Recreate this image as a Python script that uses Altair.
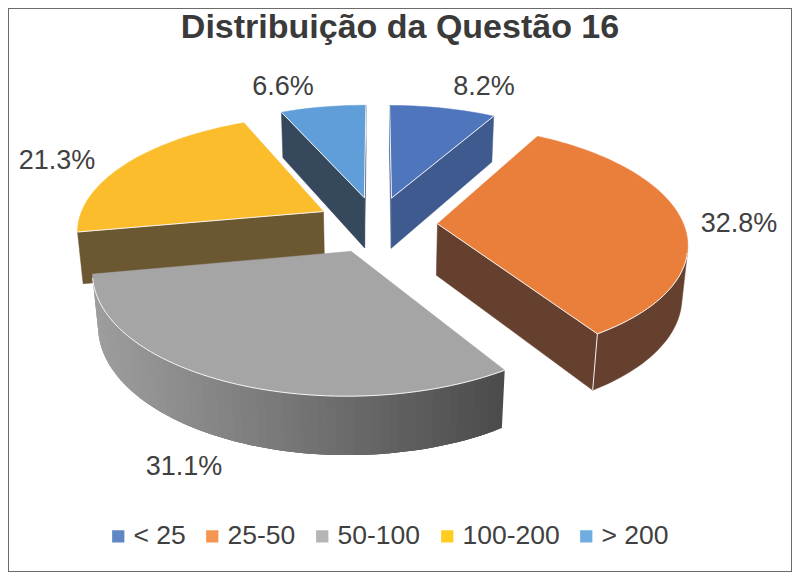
import math
import altair as alt

# Chart values
categories = ["< 25", "25-50", "50-100", "100-200", "> 200"]
shares = [8.2, 32.8, 31.1, 21.3, 6.6]

# Styles
top_colors = ["#4F75BC", "#EA7F3C", "#A5A5A5", "#FBBD2C", "#5F9ED8"]
wall_colors = ["#3E5A8E", "#66402E", None, "#6C5733", "#36495C"]
legend_colors = ["#5F87C5", "#F4964F", "#B5B5B5", "#FFCC22", "#6FADE0"]
draw_order = [4, 0, 3, 1, 2]
label_px = [(484, 87), (739, 224), (184, 467), (57, 161), (283, 87)]

# 3D pie model: unit radius, exploded, seen through a pinhole camera
CX, CY = 376.5, 224.5
SIN_A = 0.463
COS_A = 0.886
DIST = 5.87
FOCAL = 1445
EXPLODE = 0.248
THICK = 0.24


def project(x, y, z):
    d = DIST + y * COS_A - z * SIN_A
    u = y * SIN_A + z * COS_A
    return [CX + FOCAL * x / d, CY - FOCAL * u / d]


def signed_area(p):
    return sum(p[i][0] * p[(i + 1) % len(p)][1] - p[(i + 1) % len(p)][0] * p[i][1]
               for i in range(len(p))) / 2


features = []


def polygon(points, fill, stroke=None, width=0.5):
    features.append({
        "type": "Feature",
        "geometry": {"type": "Polygon", "coordinates": [points + [points[0]]]},
        "properties": {"fill": fill, "stroke": stroke or fill, "sw": width},
    })


def line(points, color="#F4F4F4", width=1.0):
    features.append({
        "type": "Feature",
        "geometry": {"type": "LineString", "coordinates": points},
        "properties": {"fill": "transparent", "stroke": color, "sw": width},
    })


def gray_shade(x):
    k = min(1.0, max(0.0, (x - 92) / (500 - 92)))
    v = round(0x9E + (0x4C - 0x9E) * k)
    return f"#{v:02x}{v:02x}{v:02x}"


total = sum(shares)
bounds = [0.0]
for s in shares:
    bounds.append(bounds[-1] + s / total * 2 * math.pi)

for i in draw_order:
    t0, t1 = bounds[i], bounds[i + 1]
    mid = (t0 + t1) / 2
    ox, oy = EXPLODE * math.sin(mid), EXPLODE * math.cos(mid)
    n = max(6, int((t1 - t0) / 0.03))
    ts = [t0 + (t1 - t0) * k / n for k in range(n + 1)]

    def rim(t, z):
        return project(ox + math.sin(t), oy + math.cos(t), z)

    apex_t, apex_b = project(ox, oy, 0), project(ox, oy, -THICK)
    wall = wall_colors[i]
    top_edges = []

    # cut faces
    for t, sign in ((t0, -1), (t1, 1)):
        face = [apex_t, rim(t, 0), rim(t, -THICK), apex_b]
        if signed_area(face) * sign > 0:
            polygon(face, wall or gray_shade((face[0][0] + face[1][0]) / 2))
            top_edges.append([apex_t, rim(t, 0)])

    # curved outer wall: the part that faces the camera
    visible = []
    for a, b in zip(ts, ts[1:]):
        strip = [rim(a, 0), rim(b, 0), rim(b, -THICK), rim(a, -THICK)]
        if signed_area(strip) < 0:
            if not visible:
                visible.append(a)
            visible.append(b)
    if len(visible) > 1:
        if wall:
            polygon([rim(t, 0) for t in visible]
                    + [rim(t, -THICK) for t in reversed(visible)], wall)
        else:
            # shaded wall: overlapping strips, from its far end to its near end
            for k in range(len(visible) - 1):
                stop = min(k + 3, len(visible) - 1)
                part = visible[k:stop + 1]
                xm = (rim(visible[k], 0)[0] + rim(visible[k + 1], 0)[0]) / 2
                polygon([rim(t, 0) for t in part]
                        + [rim(t, -THICK) for t in reversed(part)],
                        gray_shade(xm), width=0)
        top_edges.append([rim(t, 0) for t in visible])

    # top surface
    polygon([apex_t] + [rim(t, 0) for t in ts], top_colors[i])
    for e in top_edges:
        line(e)

    # seam where a visible cut face meets the visible curved wall
    for t, sign in ((t0, -1), (t1, 1)):
        face = [apex_t, rim(t, 0), rim(t, -THICK), apex_b]
        eps = 0.02 * sign
        s2 = [rim(t - eps, 0), rim(t, 0), rim(t, -THICK), rim(t - eps, -THICK)]
        if signed_area(face) * sign > 0 and signed_area(s2) * sign < 0:
            line([rim(t, 0), rim(t, -THICK)], width=1.0)

proj = dict(type="identity", scale=1, translate=[-8, -8])

pie = (
    alt.Chart(alt.InlineData(values=features))
    .mark_geoshape()
    .encode(
        fill=alt.Fill("properties.fill:N", scale=None),
        stroke=alt.Stroke("properties.stroke:N", scale=None),
        strokeWidth=alt.StrokeWidth("properties.sw:Q", scale=None),
    )
    .project(**proj)
)

label_rows = [
    {"text": f"{v}%", "lon": p[0], "lat": p[1]} for v, p in zip(shares, label_px)
]
labels = (
    alt.Chart(alt.InlineData(values=label_rows))
    .mark_text(font="Liberation Sans", fontSize=27, color="#404040", baseline="middle")
    .encode(longitude="lon:Q", latitude="lat:Q", text="text:N")
    .project(**proj)
)

legend_rows = [{"cat": c, "lon": 400, "lat": 300} for c in categories]
legend_layer = (
    alt.Chart(alt.InlineData(values=legend_rows))
    .mark_square(opacity=0, size=1)
    .encode(
        longitude="lon:Q",
        latitude="lat:Q",
        color=alt.Color(
            "cat:N",
            scale=alt.Scale(domain=categories, range=legend_colors),
            sort=categories,
            legend=alt.Legend(
                title=None,
                orient="none",
                direction="horizontal",
                columns=5,
                legendX=97,
                legendY=515,
                symbolType="square",
                symbolSize=150,
                symbolOpacity=1,
                symbolStrokeWidth=0,
                labelFont="Liberation Sans",
                labelFontSize=26.5,
                labelColor="#404040",
                labelOffset=2,
                columnPadding=13,
                labelLimit=200,
            ),
        ),
    )
    .project(**proj)
)

chart = (
    alt.layer(pie, labels, legend_layer)
    .properties(
        width=784,
        height=564,
        padding=0,
        autosize=alt.AutoSizeParams(type="none"),
        background="white",
        view=alt.ViewBackground(stroke="#6B6B6B", strokeWidth=2),
        title=alt.TitleParams(
            "Distribuição da Questão 16",
            font="Liberation Sans",
            fontSize=34,
            fontWeight="bold",
            color="#3A3A3A",
            anchor="middle",
            dy=41,
        ),
    )
)

chart.save("out.html", embed_options={"renderer": "svg", "actions": False})
